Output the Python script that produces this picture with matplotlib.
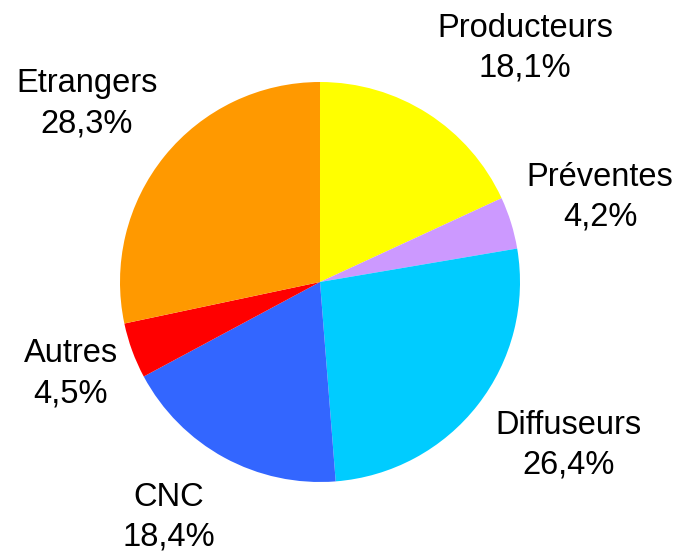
import numpy as np
import matplotlib.pyplot as plt

plt.rcParams['font.family'] = ['Liberation Sans', 'DejaVu Sans']

# donnees
categories = ["Producteurs", "Préventes", "Diffuseurs", "CNC", "Autres", "Etrangers"]
parts = [18.1, 4.2, 26.4, 18.4, 4.5, 28.3]
colors = ["#FFFF00", "#CC99FF", "#00CCFF", "#3366FF", "#FF0000", "#FF9900"]

# placement des etiquettes (distance au centre, decalage angulaire en degres)
label_dist = [1.554, 1.463, 1.488, 1.398, 1.329, 1.467]
label_shift = [-8.7, -0.4, 4.6, -4.0, 0.1, 1.6]

fig = plt.figure(figsize=(6.77, 5.58), dpi=100)
ax = fig.add_axes([0, 0, 1, 1])

wedges, _ = ax.pie(parts, colors=colors, startangle=90, counterclock=False,
                   radius=1.0, wedgeprops=dict(linewidth=0))

for w, name, val, d, s in zip(wedges, categories, parts, label_dist, label_shift):
    mid = np.deg2rad((w.theta1 + w.theta2) / 2 + s)
    txt = f"{name}\n{val:.1f}%".replace(".", ",")
    ax.text(d * np.cos(mid), d * np.sin(mid), txt, ha="center", va="center",
            multialignment="center", fontsize=23.5, linespacing=1.36, color="black")

ax.set_aspect("auto")
ax.set_xlim(-1.6, 1.785)
ax.set_ylim(-1.38, 1.41)
ax.axis("off")

fig.savefig("out.png", dpi=100)
